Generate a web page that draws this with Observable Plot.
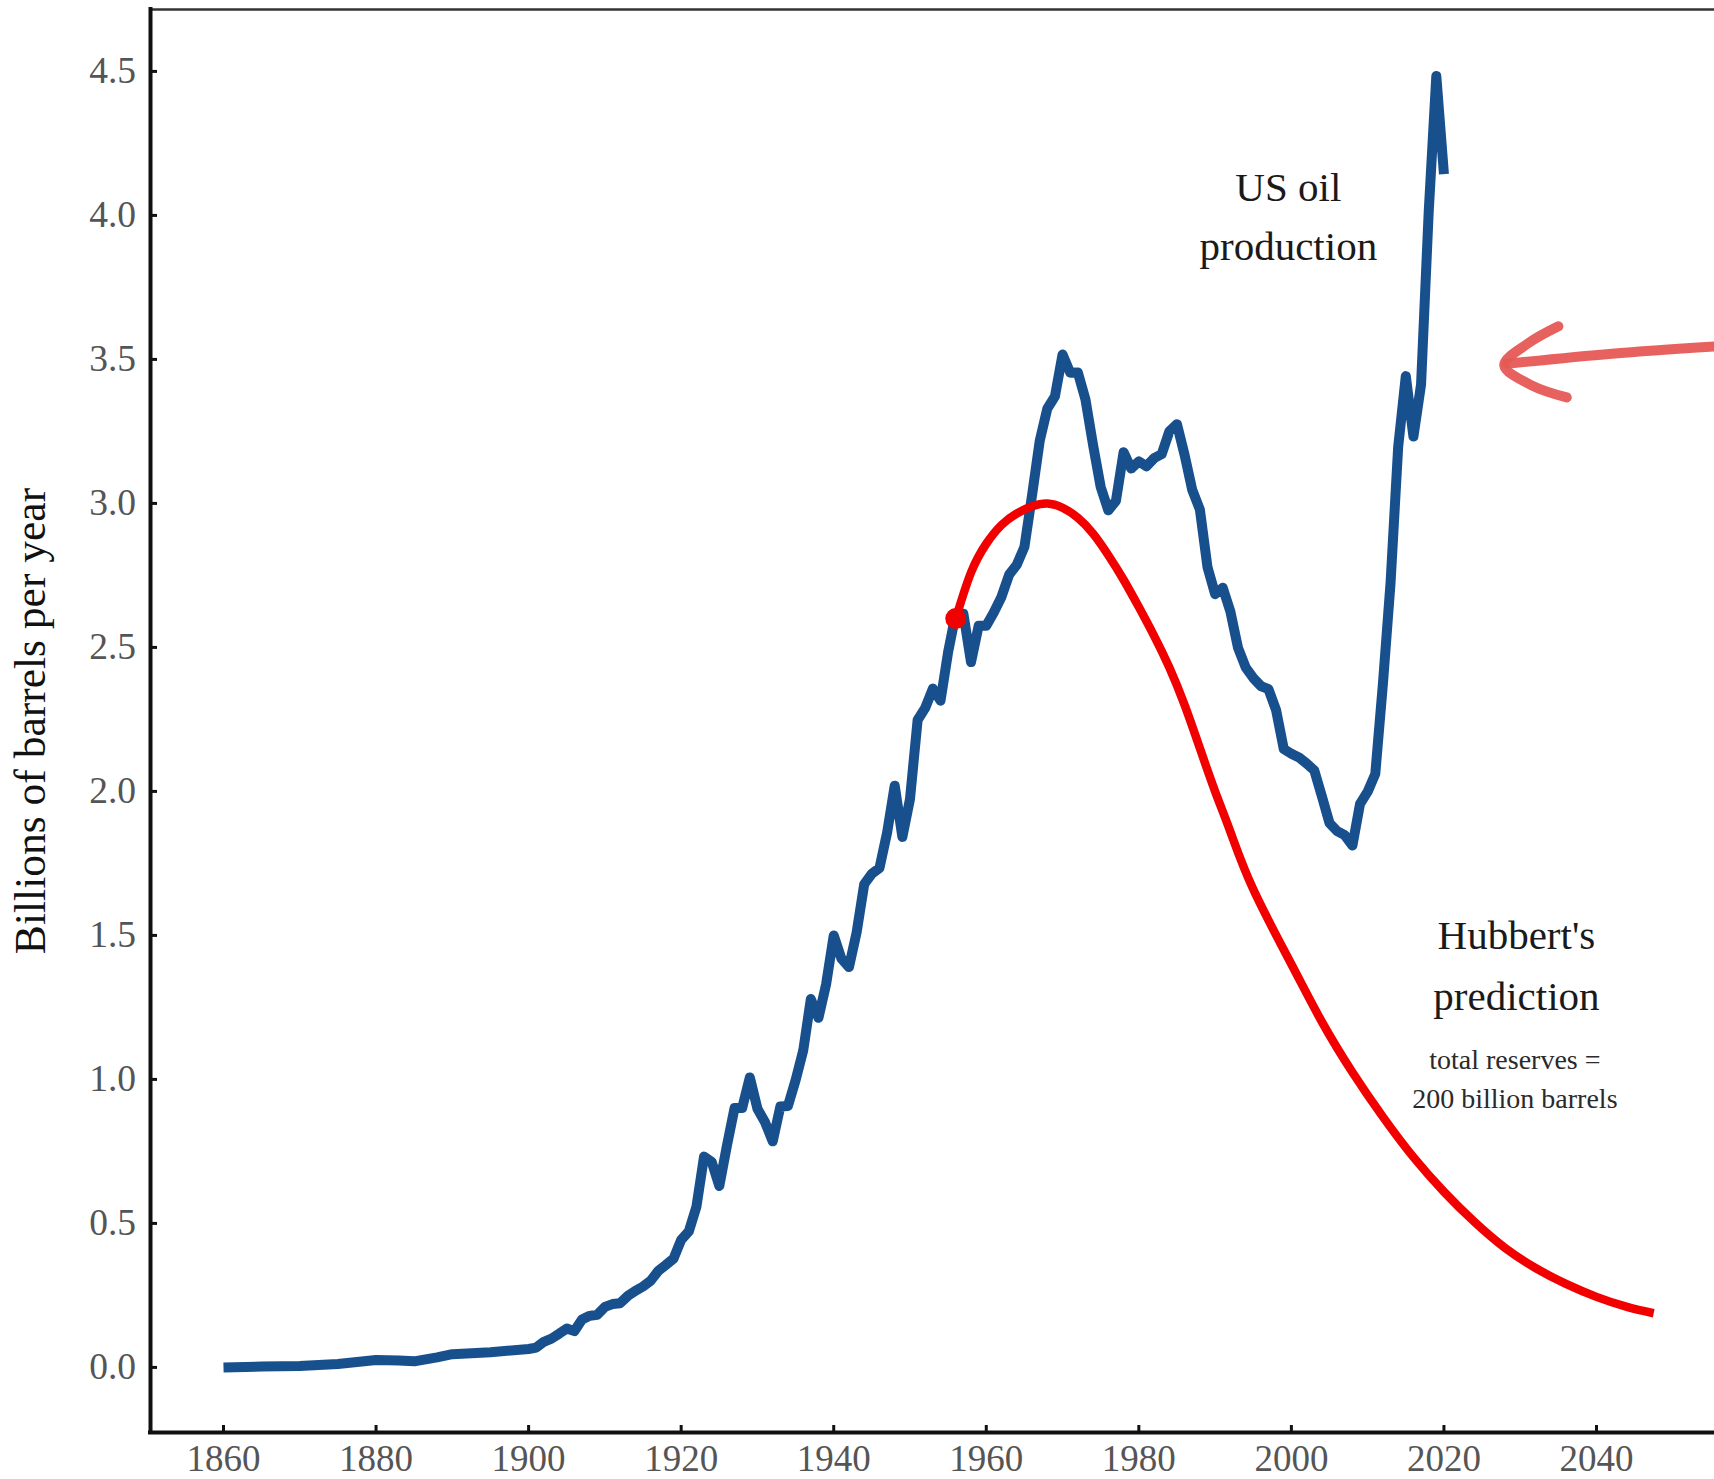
<!DOCTYPE html>
<html>
<head>
<meta charset="utf-8">
<script src="https://cdn.jsdelivr.net/npm/d3@7"></script>
<script src="https://cdn.jsdelivr.net/npm/@observablehq/plot@0.6"></script>
<style>
  html, body { margin: 0; padding: 0; background: #fff; }
</style>
</head>
<body>
<div id="chart"></div>
<script>
// ---------- data ----------
const prodYears = [
  1860, 1865, 1870, 1875, 1880, 1883, 1885, 1888, 1890, 1895,
  1900, 1901, 1902, 1903, 1904, 1905, 1906, 1907, 1908, 1909,
  1910, 1911, 1912, 1913, 1914, 1915, 1916, 1917, 1918, 1919,
  1920, 1921, 1922, 1923, 1924, 1925, 1926, 1927, 1928, 1929,
  1930, 1931, 1932, 1933, 1934, 1935, 1936, 1937, 1938, 1939,
  1940, 1941, 1942, 1943, 1944, 1945, 1946, 1947, 1948, 1949,
  1950, 1951, 1952, 1953, 1954, 1955, 1956, 1957, 1958, 1959,
  1960, 1961, 1962, 1963, 1964, 1965, 1966, 1967, 1968, 1969,
  1970, 1971, 1972, 1973, 1974, 1975, 1976, 1977, 1978, 1979,
  1980, 1981, 1982, 1983, 1984, 1985, 1986, 1987, 1988, 1989,
  1990, 1991, 1992, 1993, 1994, 1995, 1996, 1997, 1998, 1999,
  2000, 2001, 2002, 2003, 2004, 2005, 2006, 2007, 2008, 2009,
  2010, 2011, 2012, 2013, 2014, 2015, 2016, 2017, 2018, 2019,
  2020
];
const prodValues = [
  0.000, 0.003, 0.005, 0.012, 0.026, 0.024, 0.021, 0.035, 0.046, 0.053,
  0.064, 0.069, 0.089, 0.100, 0.117, 0.135, 0.126, 0.166, 0.179, 0.183,
  0.210, 0.220, 0.223, 0.248, 0.266, 0.281, 0.301, 0.335, 0.356, 0.378,
  0.443, 0.472, 0.558, 0.732, 0.714, 0.630, 0.770, 0.901, 0.901, 1.007,
  0.898, 0.851, 0.785, 0.906, 0.908, 0.997, 1.100, 1.279, 1.214, 1.330,
  1.500, 1.420, 1.390, 1.510, 1.678, 1.714, 1.734, 1.857, 2.020, 1.842,
  1.974, 2.248, 2.290, 2.357, 2.315, 2.484, 2.617, 2.617, 2.449, 2.575,
  2.575, 2.622, 2.676, 2.753, 2.787, 2.849, 3.028, 3.216, 3.329, 3.372,
  3.517, 3.454, 3.455, 3.361, 3.203, 3.057, 2.976, 3.009, 3.178, 3.121,
  3.146, 3.129, 3.157, 3.171, 3.250, 3.275, 3.168, 3.047, 2.979, 2.779,
  2.685, 2.707, 2.625, 2.499, 2.431, 2.394, 2.366, 2.355, 2.282, 2.147,
  2.131, 2.118, 2.097, 2.073, 1.983, 1.890, 1.862, 1.848, 1.812, 1.957,
  1.999, 2.061, 2.374, 2.724, 3.196, 3.442, 3.232, 3.413, 4.011, 4.484,
  4.143
];

const hubbertYears = [
  1956, 1958, 1960, 1962, 1964, 1966, 1968, 1970, 1972, 1974,
  1976, 1978, 1980, 1982, 1984, 1986, 1988, 1990, 1992, 1995,
  2000, 2004, 2008, 2012, 2016, 2020, 2024, 2028, 2032, 2036,
  2040, 2044, 2047.5
];
const hubbertValues = [
  2.600, 2.760, 2.860, 2.925, 2.965, 2.990, 3.000, 2.985, 2.950, 2.895,
  2.820, 2.735, 2.640, 2.540, 2.430, 2.300, 2.150, 2.000, 1.860, 1.660,
  1.400, 1.200, 1.025, 0.870, 0.730, 0.610, 0.505, 0.415, 0.345, 0.290,
  0.245, 0.210, 0.188
];

const forecastStartYear = [1956];
const forecastStartValue = [2.6];

const xTicks = [1860, 1880, 1900, 1920, 1940, 1960, 1980, 2000, 2020, 2040];
const yTicks = [0, 0.5, 1, 1.5, 2, 2.5, 3, 3.5, 4, 4.5];
const xDomain = [1850.43, 2055.47];
const yDomain = [-0.226, 4.715];
const yLabel = "Billions of barrels per year";

// annotation text anchors (in data units)
const bigLabelText  = ["US oil", "production", "Hubbert's", "prediction"];
const bigLabelYear  = [1999.6, 1999.6, 2029.5, 2029.5];
const bigLabelValue = [4.094, 3.892, 1.497, 1.287];
const smallLabelText  = ["total reserves =", "200 billion barrels"];
const smallLabelYear  = [2029.3, 2029.3];
const smallLabelValue = [1.066, 0.931];

// hand-drawn arrow (in data units)
const arrowShaftYear  = [2055.47, 2042, 2028.2];
const arrowShaftValue = [3.545, 3.520, 3.485];
const arrowHeadYear   = [2035.0, 2031.0, 2027.9, 2031.5, 2036.1];
const arrowHeadValue  = [3.615, 3.555, 3.480, 3.410, 3.368];

// ---------- tables built from arrays ----------
const production = prodYears.map((y, i) => ({year: y, value: prodValues[i]}));
const hubbert = hubbertYears.map((y, i) => ({year: y, value: hubbertValues[i]}));
const startPoint = forecastStartYear.map((y, i) => ({year: y, value: forecastStartValue[i]}));
const bigLabels = bigLabelText.map((t, i) => ({text: t, year: bigLabelYear[i], value: bigLabelValue[i]}));
const smallLabels = smallLabelText.map((t, i) => ({text: t, year: smallLabelYear[i], value: smallLabelValue[i]}));
const arrowShaft = arrowShaftYear.map((y, i) => ({year: y, value: arrowShaftValue[i]}));
const arrowHead = arrowHeadYear.map((y, i) => ({year: y, value: arrowHeadValue[i]}));

// ---------- layout ----------
const W = 1714, H = 1479;
const mL = 150, mR = 0, mT = 9, mB = 47;
const innerW = W - mL - mR, innerH = H - mT - mB;
const tickLen = 7;
const serif = "'Liberation Serif', 'Times New Roman', Times, serif";

const chart = Plot.plot({
  width: W,
  height: H,
  marginLeft: mL,
  marginRight: mR,
  marginTop: mT,
  marginBottom: mB,
  style: {fontFamily: serif, background: "#fff", color: "#111"},
  x: {domain: xDomain},
  y: {domain: yDomain},
  marks: [
    // frame lines
    Plot.ruleY([yDomain[1]], {stroke: "#333", strokeWidth: 2.5}),
    Plot.ruleY([yDomain[0]], {stroke: "#111", strokeWidth: 4, strokeLinecap: "square"}),
    Plot.ruleX([xDomain[0]], {stroke: "#111", strokeWidth: 4, strokeLinecap: "square"}),
    // inward ticks
    Plot.tickX(xTicks, {x: d => d, stroke: "#111", strokeWidth: 3, insetTop: innerH - tickLen}),
    Plot.tickY(yTicks, {y: d => d, stroke: "#111", strokeWidth: 3, insetRight: innerW - tickLen}),
    // tick labels
    Plot.axisX({ticks: xTicks, tickSize: 0, tickPadding: 12, tickFormat: d => String(d),
      fontSize: 37, color: "#555", label: null}),
    Plot.axisY({ticks: yTicks, tickSize: 0, tickPadding: 14.5, tickFormat: d3.format(".1f"),
      fontSize: 37.5, color: "#555", label: null}),
    // y label
    Plot.text([yLabel], {text: d => d, frameAnchor: "left", rotate: -90, dx: -119,
      fontSize: 43.5, fill: "#111", textAnchor: "middle", lineAnchor: "middle"}),
    // data
    Plot.line(production, {x: "year", y: "value", stroke: "#18508e", strokeWidth: 10,
      strokeLinejoin: "round", strokeLinecap: "butt"}),
    Plot.line(hubbert, {x: "year", y: "value", stroke: "#f20000", strokeWidth: 8.5,
      curve: "natural", strokeLinecap: "butt"}),
    Plot.dot(startPoint, {x: "year", y: "value", r: 10.5, fill: "#f20000", stroke: "none"}),
    // annotations
    Plot.text(bigLabels, {x: "year", y: "value", text: "text", fontSize: 41, fill: "#1a1a1a",
      textAnchor: "middle", lineAnchor: "middle"}),
    Plot.text(smallLabels, {x: "year", y: "value", text: "text", fontSize: 28, fill: "#2a2a2a",
      textAnchor: "middle", lineAnchor: "middle"}),
    // hand-drawn arrow
    Plot.line(arrowShaft, {x: "year", y: "value", stroke: "#e65a55", strokeWidth: 10,
      curve: "natural", strokeLinecap: "round", strokeOpacity: 0.95}),
    Plot.line(arrowHead, {x: "year", y: "value", stroke: "#e65a55", strokeWidth: 10,
      strokeLinecap: "round", strokeLinejoin: "round", curve: "catmull-rom", strokeOpacity: 0.95})
  ]
});

document.getElementById("chart").appendChild(chart);
</script>
</body>
</html>
